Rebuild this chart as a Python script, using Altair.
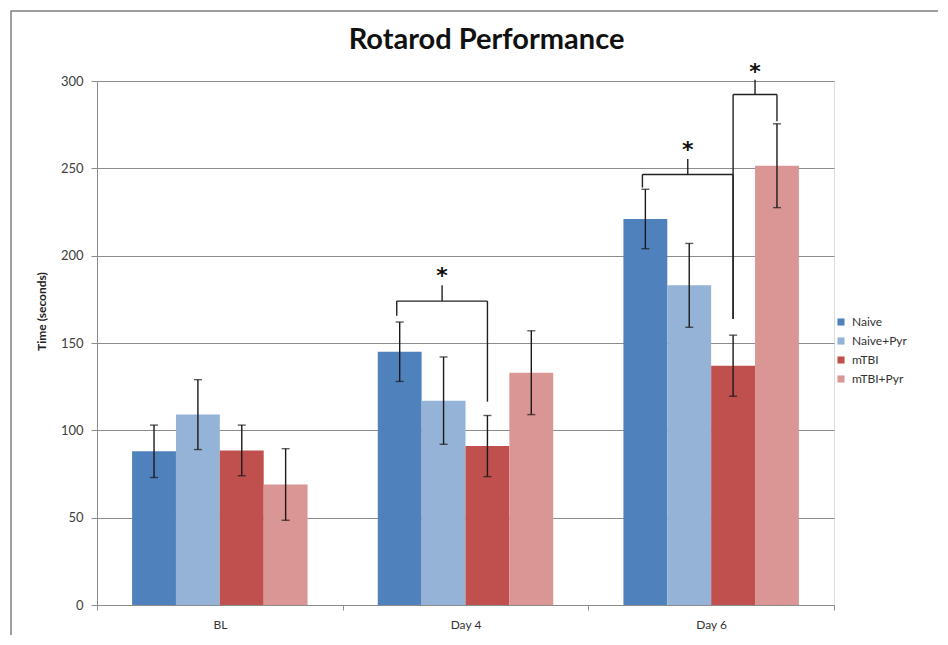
import altair as alt
import pandas as pd

groups = ["BL", "Day 4", "Day 6"]
series = ["Naive", "Naive+Pyr", "mTBI", "mTBI+Pyr"]
colors = ["#4f81bd", "#95b3d7", "#c0504d", "#da9694"]

naive = [88, 145, 221]
naive_pyr = [109, 117, 183]
mtbi = [88.5, 91, 137]
mtbi_pyr = [69, 133, 251.5]

naive_err = [15, 17, 17]
naive_pyr_err = [20, 25, 24]
mtbi_err = [14.5, 17.5, 17.5]
mtbi_pyr_err = [20.5, 24, 24]

# significance brackets: group, left bar, right bar, bar-level heights
br_group = ["Day 4", "Day 6", "Day 6"]
br_left = ["Naive", "Naive", "mTBI"]
br_right = ["mTBI", "mTBI", "mTBI+Pyr"]
br_left_shift = [-0.012, -0.012, 0.0]
br_y = [174, 246.5, 292.3]
br_left_low = [165.6, 239, 163.7]
br_right_low = [116.4, 163.7, 277]
br_tick_top = [183, 255.3, 300.7]
star_y = [190, 262, 307]

rows = []
vals = [naive, naive_pyr, mtbi, mtbi_pyr]
errs = [naive_err, naive_pyr_err, mtbi_err, mtbi_pyr_err]
for si, s in enumerate(series):
    for gi, g in enumerate(groups):
        rows.append({"group": g, "series": s, "value": vals[si][gi], "err": errs[si][gi]})
df = pd.DataFrame(rows)

P_OUT = 0.8  # outer padding of the offset scale (in steps)


def xpos(g, s):
    return groups.index(g) + (P_OUT + series.index(s) + 0.5) / (len(series) + 2 * P_OUT)


segs = []
stars = []
for i in range(len(br_group)):
    xl = xpos(br_group[i], br_left[i]) + br_left_shift[i]
    xr = xpos(br_group[i], br_right[i])
    xm = (xl + xr) / 2
    segs.append({"x": xl, "x2": xr, "y": br_y[i], "y2": br_y[i]})
    segs.append({"x": xl, "x2": xl, "y": br_left_low[i], "y2": br_y[i]})
    segs.append({"x": xr, "x2": xr, "y": br_right_low[i], "y2": br_y[i]})
    segs.append({"x": xm, "x2": xm, "y": br_y[i], "y2": br_tick_top[i]})
    stars.append({"x": xm, "y": star_y[i]})
seg_df = pd.DataFrame(segs)
star_df = pd.DataFrame(stars)

FONT = "Lato"
x_enc = alt.X(
    "group:N",
    sort=groups,
    scale=alt.Scale(paddingInner=0, paddingOuter=0),
    axis=alt.Axis(
        title=None,
        labelAngle=0,
        tickBand="extent",
        tickSize=5,
        tickColor="#8c8c8c",
        domainColor="#8c8c8c",
        labelFontSize=12,
        labelColor="#333333",
        labelFont=FONT,
        labelPadding=9,
        grid=False,
    ),
)
xo_enc = alt.XOffset("series:N", sort=series, scale=alt.Scale(paddingOuter=P_OUT, paddingInner=0))
y_enc = alt.Y(
    "value:Q",
    scale=alt.Scale(domain=[0, 300], nice=False),
    axis=alt.Axis(
        title="Time (seconds)",
        values=[0, 50, 100, 150, 200, 250, 300],
        grid=True,
        gridColor="#8c8c8c",
        gridWidth=1,
        domainColor="#8c8c8c",
        tickColor="#8c8c8c",
        tickSize=6,
        labelFontSize=13,
        labelColor="#404040",
        labelFont=FONT,
        labelPadding=8,
        titleFont=FONT,
        titleFontSize=12,
        titleFontWeight="bold",
        titleColor="#222222",
        titleX=-56,
        titleY=230,
        titleAlign="center",
        titleBaseline="middle",
        titleAngle=270,
    ),
)

base = alt.Chart(df)
bars = base.mark_bar().encode(
    x=x_enc,
    xOffset=xo_enc,
    y=y_enc,
    color=alt.Color(
        "series:N",
        sort=series,
        scale=alt.Scale(domain=series, range=colors),
        legend=alt.Legend(
            title=None,
            orient="none",
            legendX=738,
            legendY=235,
            symbolType="square",
            symbolSize=50,
            symbolStrokeWidth=0,
            labelFontSize=12,
            labelFont=FONT,
            labelColor="#333333",
            rowPadding=7,
            labelOffset=5,
        ),
    ),
)
ebar = base.transform_calculate(lo="datum.value - datum.err", hi="datum.value + datum.err")
err_rule = ebar.mark_rule(color="#1a1a1a", strokeWidth=1.4).encode(
    x=alt.X("group:N", sort=groups), xOffset=alt.XOffset("series:N", sort=series), y="lo:Q", y2="hi:Q"
)
cap_lo = ebar.mark_tick(color="#1a1a1a", size=8, thickness=1.4).encode(
    x=alt.X("group:N", sort=groups), xOffset=alt.XOffset("series:N", sort=series), y="lo:Q"
)
cap_hi = ebar.mark_tick(color="#1a1a1a", size=8, thickness=1.4).encode(
    x=alt.X("group:N", sort=groups), xOffset=alt.XOffset("series:N", sort=series), y="hi:Q"
)

xq = alt.Scale(domain=[0, 3], nice=False, zero=False)
bracket = alt.Chart(seg_df).mark_rule(color="#222222", strokeWidth=1.4).encode(
    x=alt.X("x:Q", scale=xq, axis=None), x2="x2:Q", y="y:Q", y2="y2:Q"
)
star = alt.Chart(star_df).mark_text(
    text="*", fontSize=22, fontWeight="bold", font="DejaVu Sans", color="#111111", baseline="middle", dy=3
).encode(x=alt.X("x:Q", scale=xq, axis=None), y="y:Q")

frame = alt.Chart(pd.DataFrame({"a": [0]})).mark_rect(fill=None, stroke="#7f7f7f", strokeWidth=1.5).encode(
    x=alt.value(-86), x2=alt.value(900), y=alt.value(-70), y2=alt.value(620)
)

main = alt.layer(bars, err_rule, cap_lo, cap_hi)
chart = (
    alt.layer(main, bracket, star, frame)
    .resolve_scale(x="independent")
    .properties(
        width=737,
        height=524,
        autosize=alt.AutoSizeParams(type="none"),
        padding={"left": 89, "top": 73, "right": 104, "bottom": 30},
        title=alt.TitleParams(
            "Rotarod Performance", fontSize=29, fontWeight="bold", font=FONT, anchor="middle", dx=21, offset=-45,
            color="#111111",
        ),
    )
    .configure_view(stroke=None)
    .configure(background="white")
)

chart.save("out.html", embed_options={"renderer": "svg", "actions": False})
